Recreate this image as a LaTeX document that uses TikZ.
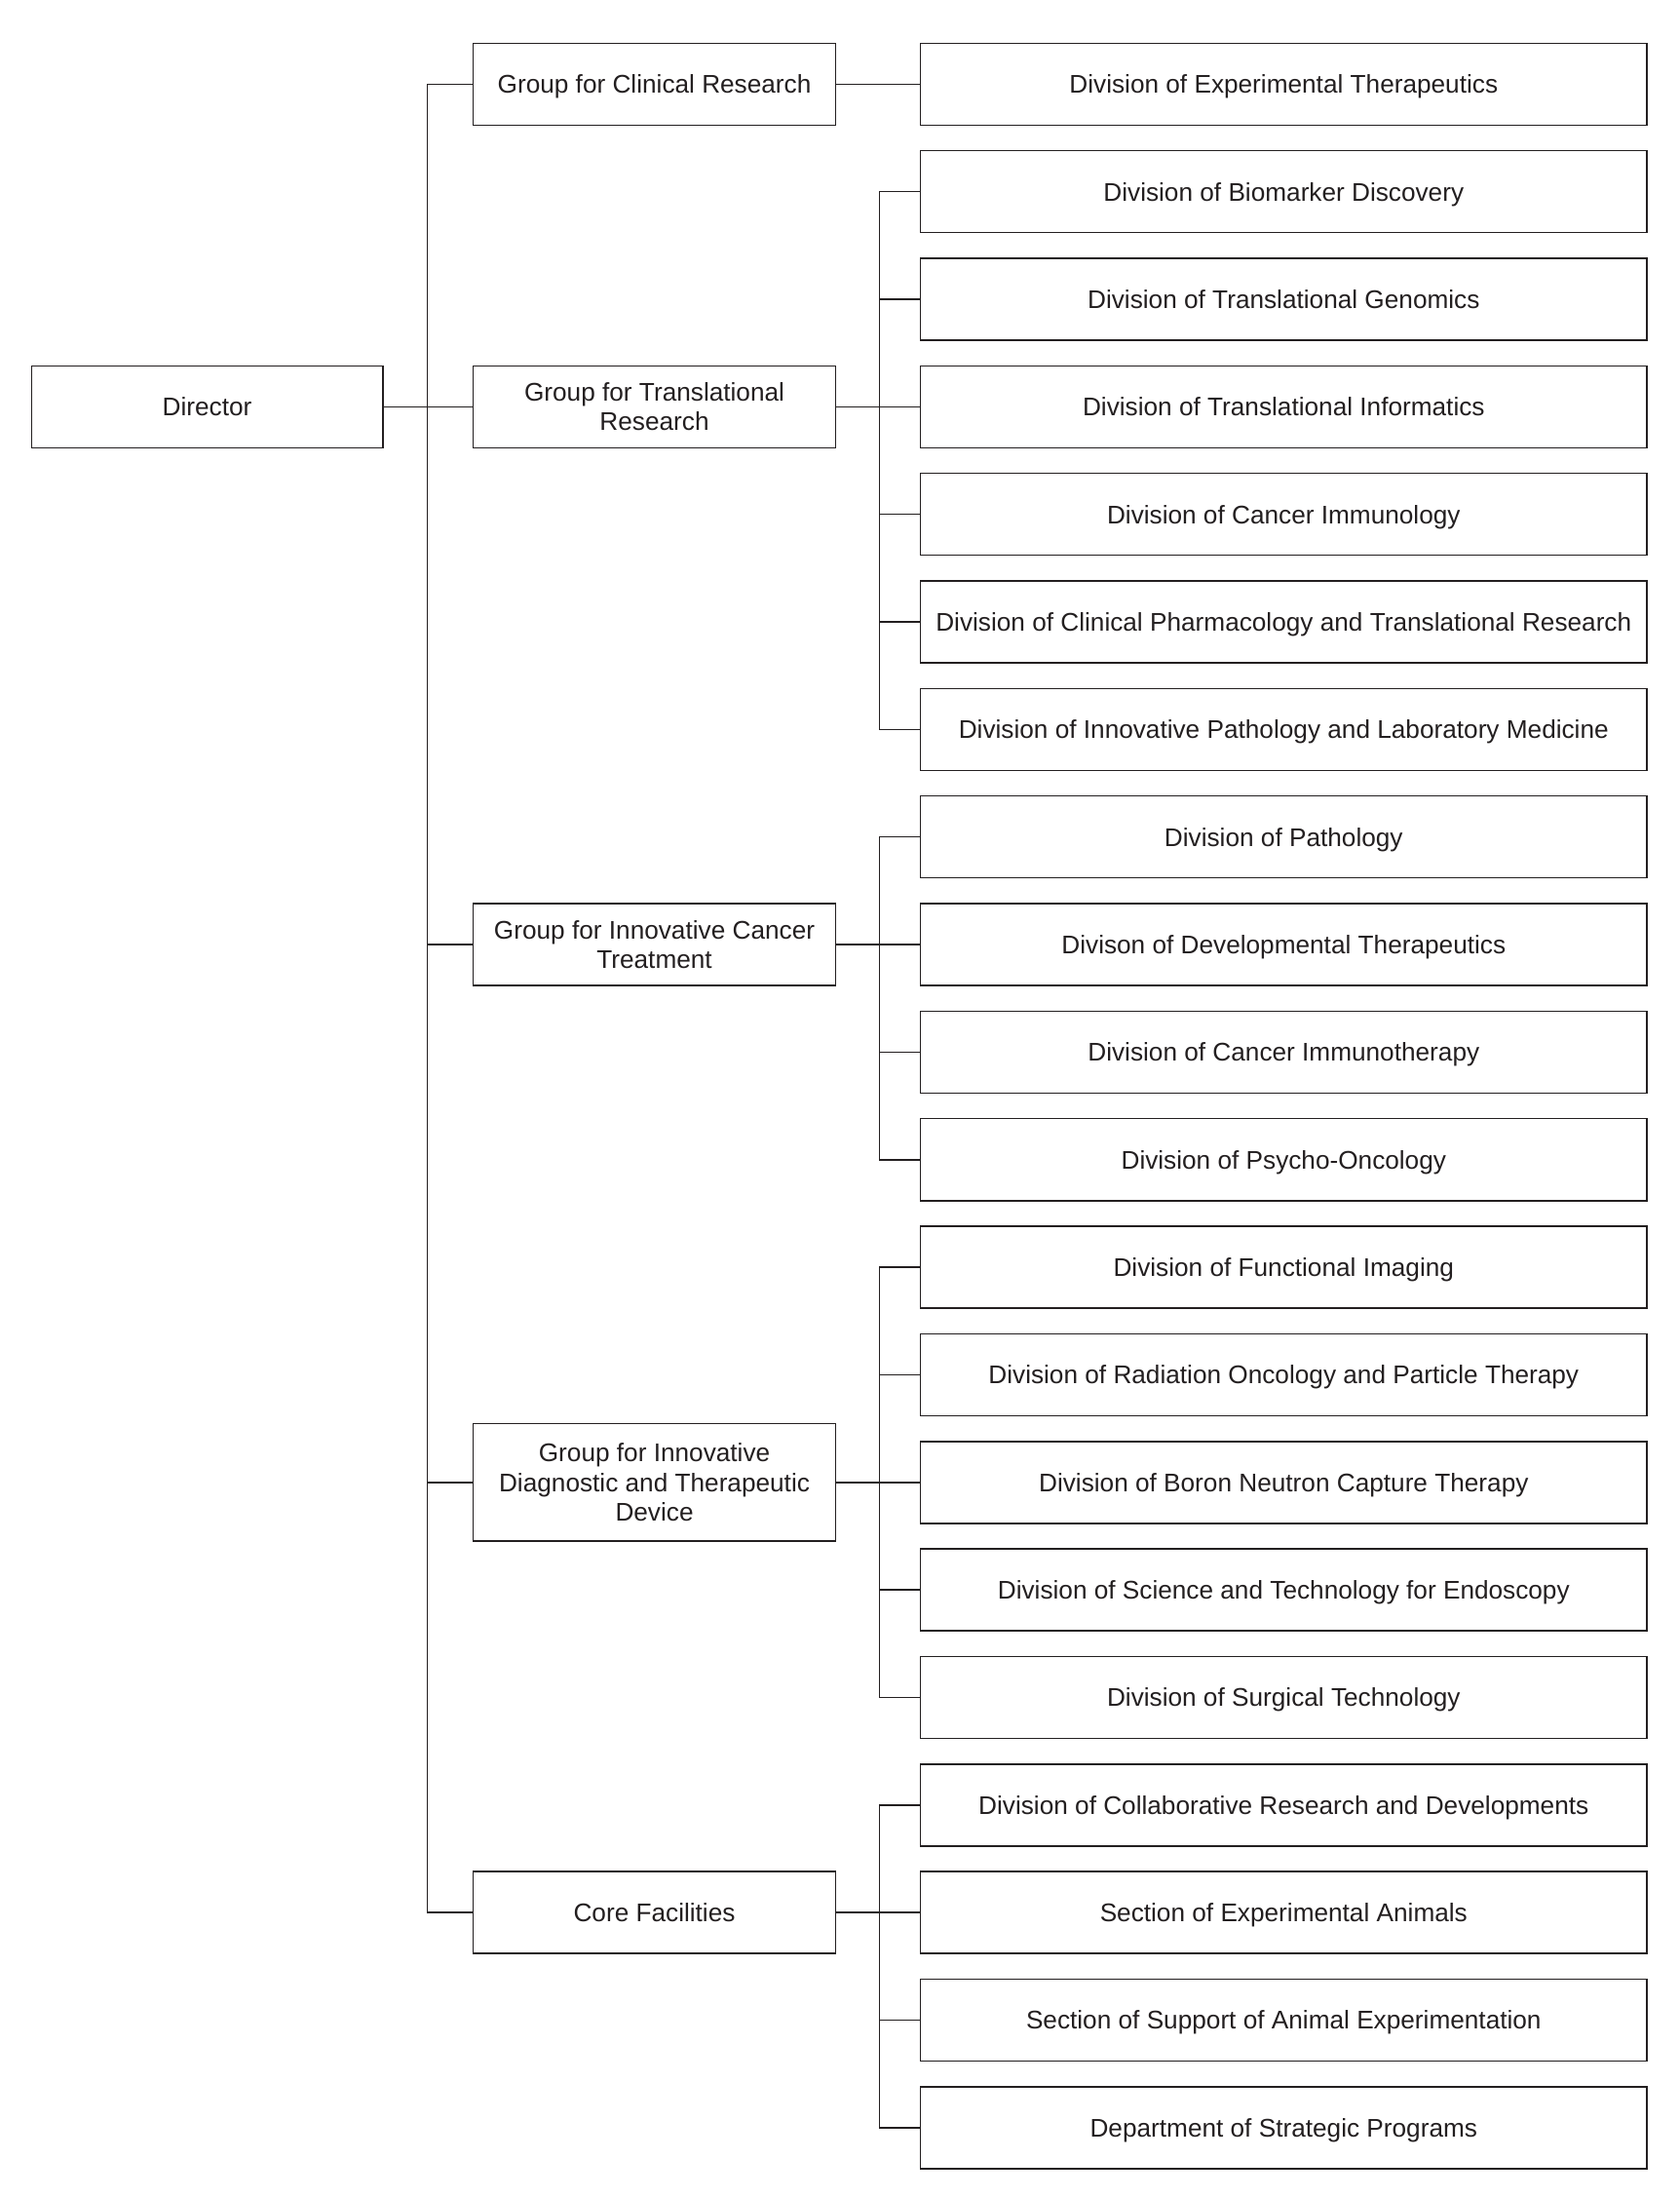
\documentclass[tikz,border=0pt]{standalone}
\usepackage{fontspec}
\setmainfont{Liberation Sans}
\usepackage{tikz}
\usetikzlibrary{calc}
\usetikzlibrary{positioning}

\definecolor{inkline}{RGB}{35,31,32}

\tikzset{
	unitbox/.style={draw=inkline, line width=0.5pt, inner sep=0pt, align=center, text=inkline,
		font=\fontsize{9.12}{10.5}\selectfont},
	divbox/.style={unitbox, minimum width=259.45pt, minimum height=29.25pt, text depth=0pt},
	grpbox/.style={unitbox, minimum width=129.55pt, minimum height=29.25pt},
	link/.style={draw=inkline, line width=0.5pt}
}

\begin{document}
\begin{tikzpicture}[x=0.5pt, y=-0.5pt]
			\useasboundingbox (0, 0) rectangle (1200, 1570); %alignment

			\node[unitbox, minimum width=125.5pt, minimum height=29.15pt, text depth=0pt] (dir) at (148, 290.61) {Director};

			\node[grpbox, text depth=0pt] (grpClin) at (467.55, 60.15) {Group for Clinical Research};
			\node[grpbox] (grpTrans) at (467.55, 290.61) {Group for Translational\\Research};
			\node[grpbox] (grpCancer) at (467.55, 674.71) {Group for Innovative Cancer\\Treatment};
			\node[grpbox, minimum height=42pt] (grpDevice) at (467.55, 1058.81) {Group for Innovative\\Diagnostic and Therapeutic\\Device};
			\node[grpbox, text depth=0pt] (grpCore) at (467.55, 1366.09) {Core Facilities};

			\node[divbox] (d0) at (917.15, 60.15) {Division of Experimental Therapeutics};
			\node[divbox] (d1) at (917.15, 136.97) {Division of Biomarker Discovery};
			\node[divbox] (d2) at (917.15, 213.79) {Division of Translational Genomics};
			\node[divbox] (d3) at (917.15, 290.61) {Division of Translational Informatics};
			\node[divbox] (d4) at (917.15, 367.43) {Division of Cancer Immunology};
			\node[divbox] (d5) at (917.15, 444.25) {Division of Clinical Pharmacology and Translational Research};
			\node[divbox] (d6) at (917.15, 521.07) {Division of Innovative Pathology and Laboratory Medicine};
			\node[divbox] (d7) at (917.15, 597.89) {Division of Pathology};
			\node[divbox] (d8) at (917.15, 674.71) {Divison of Developmental Therapeutics};
			\node[divbox] (d9) at (917.15, 751.53) {Division of Cancer Immunotherapy};
			\node[divbox] (d10) at (917.15, 828.35) {Division of Psycho-Oncology};
			\node[divbox] (d11) at (917.15, 905.17) {Division of Functional Imaging};
			\node[divbox] (d12) at (917.15, 981.99) {Division of Radiation Oncology and Particle Therapy};
			\node[divbox] (d13) at (917.15, 1058.81) {Division of Boron Neutron Capture Therapy};
			\node[divbox] (d14) at (917.15, 1135.63) {Division of Science and Technology for Endoscopy};
			\node[divbox] (d15) at (917.15, 1212.45) {Division of Surgical Technology};
			\node[divbox] (d16) at (917.15, 1289.27) {Division of Collaborative Research and Developments};
			\node[divbox] (d17) at (917.15, 1366.09) {Section of Experimental Animals};
			\node[divbox] (d18) at (917.15, 1442.91) {Section of Support of Animal Experimentation};
			\node[divbox] (d19) at (917.15, 1519.73) {Department of Strategic Programs};

			\coordinate (trunk) at (305.3, 0);
			\coordinate (branch) at (628.4, 0);

			% director to groups
			\draw[link] (dir.east) -- (grpTrans.west);
			\draw[link] (grpClin.west) -- (grpClin.west -| trunk) -- (grpCore.west -| trunk) -- (grpCore.west);
			\draw[link] (grpCancer.west) -- (grpCancer.west -| trunk);
			\draw[link] (grpDevice.west) -- (grpDevice.west -| trunk);

			% clinical research
			\draw[link] (grpClin.east) -- (d0.west);

			% translational research
			\draw[link] (grpTrans.east) -- (d3.west);
			\draw[link] (d1.west) -- (d1.west -| branch) -- (d6.west -| branch) -- (d6.west);
			\draw[link] (d2.west) -- (d2.west -| branch);
			\draw[link] (d4.west) -- (d4.west -| branch);
			\draw[link] (d5.west) -- (d5.west -| branch);

			% cancer treatment
			\draw[link] (grpCancer.east) -- (d8.west);
			\draw[link] (d7.west) -- (d7.west -| branch) -- (d10.west -| branch) -- (d10.west);
			\draw[link] (d9.west) -- (d9.west -| branch);

			% diagnostic and therapeutic device
			\draw[link] (grpDevice.east) -- (d13.west);
			\draw[link] (d11.west) -- (d11.west -| branch) -- (d15.west -| branch) -- (d15.west);
			\draw[link] (d12.west) -- (d12.west -| branch);
			\draw[link] (d14.west) -- (d14.west -| branch);

			% core facilities
			\draw[link] (grpCore.east) -- (d17.west);
			\draw[link] (d16.west) -- (d16.west -| branch) -- (d19.west -| branch) -- (d19.west);
			\draw[link] (d18.west) -- (d18.west -| branch);
\end{tikzpicture}
\end{document}
